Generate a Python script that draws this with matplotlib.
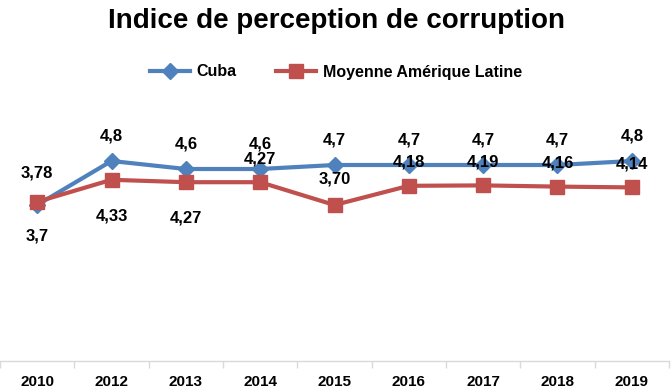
import numpy as np
import matplotlib
matplotlib.use("Agg")
import matplotlib.pyplot as plt
from matplotlib.ticker import FixedLocator

plt.rcParams["font.family"] = ["Liberation Sans", "DejaVu Sans"]

# ── Data ────────────────────────────────────────────────────────────────────
years = ["2010", "2012", "2013", "2014", "2015", "2016", "2017", "2018", "2019"]
cuba = [3.7, 4.8, 4.6, 4.6, 4.7, 4.7, 4.7, 4.7, 4.8]
latam = [3.78, 4.33, 4.27, 4.27, 3.70, 4.18, 4.19, 4.16, 4.14]
cuba_labels = ["3,7", "4,8", "4,6", "4,6", "4,7", "4,7", "4,7", "4,7", "4,8"]
latam_labels = ["3,78", "4,33", "4,27", "4,27", "3,70", "4,18", "4,19", "4,16", "4,14"]

BLUE = "#4F81BD"
RED = "#C0504D"

fig = plt.figure(figsize=(6.72, 3.92), dpi=100)
ax = fig.add_axes([0.0, 1 - 361 / 392, 669 / 672, (361 - 113) / 392])

x = np.arange(len(years))
ax.plot(x, cuba, color=BLUE, lw=3, marker="D", ms=8, label="Cuba", zorder=3)
ax.plot(x, latam, color=RED, lw=3, marker="s", ms=10, label="Moyenne Amérique Latine", zorder=3)

# data labels (offsets in points)
cuba_off = [-22] + [18] * 8
latam_off = [21, -26, -26, 17, 19, 17, 17, 17, 17]
for i in x:
    ax.annotate(cuba_labels[i], (i, cuba[i]), xytext=(0, cuba_off[i]),
                textcoords="offset points", ha="center", va="center",
                fontsize=12, fontweight="bold", zorder=5)
    ax.annotate(latam_labels[i], (i, latam[i]), xytext=(0, latam_off[i]),
                textcoords="offset points", ha="center", va="center",
                fontsize=12, fontweight="bold", zorder=5)

ax.set_xlim(-0.5, len(years) - 0.5)
ax.set_ylim(-0.2, 6)
for s in ["top", "right", "left"]:
    ax.spines[s].set_visible(False)
ax.spines["bottom"].set_color("#D9D9D9")
ax.spines["bottom"].set_linewidth(1)
ax.set_yticks([])
ax.set_xticks(x)
ax.set_xticklabels(years, fontsize=11, fontweight="bold")
ax.tick_params(axis="x", which="major", length=0, pad=10)
ax.xaxis.set_minor_locator(FixedLocator(np.arange(-0.5, len(years), 1.0)))
ax.tick_params(axis="x", which="minor", length=5, color="#D9D9D9", width=1)

fig.text(0.5, 1 - 21 / 392, "Indice de perception de corruption", ha="center", va="center",
         fontsize=20, fontweight="bold")
fig.legend(loc="center", bbox_to_anchor=(0.5, 1 - 72 / 392), ncol=2, frameon=False,
           prop={"weight": "bold", "size": 11.5}, handlelength=2.5,
           columnspacing=2.5, handletextpad=0.4)

fig.savefig("out.png", dpi=100)
